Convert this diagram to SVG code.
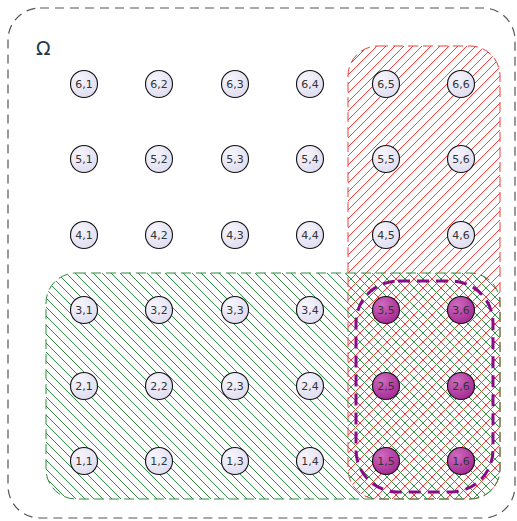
<svg xmlns="http://www.w3.org/2000/svg" width="517" height="521" viewBox="0 0 517 521">
<style>
.omega{fill:none;stroke:#555;stroke-width:1.2;stroke-dasharray:9,6}
.node circle{stroke:#111;stroke-width:1.1;fill:url(#gLight)}
.node.hot circle{fill:url(#gHot)}
.node text{font-family:"DejaVu Sans",sans-serif;font-size:11px;fill:#333;text-anchor:middle;dominant-baseline:central}
.lbl{font-family:"DejaVu Sans",sans-serif;font-size:19px;fill:#1f3b4d}
.hatch{stroke-width:1;fill:none}
</style>
<defs>
<radialGradient id="gLight" cx="0.35" cy="0.3" r="0.8">
<stop offset="0" stop-color="#f6f5fc"/><stop offset="1" stop-color="#dddbef"/>
</radialGradient>
<radialGradient id="gHot" cx="0.35" cy="0.3" r="0.8">
<stop offset="0" stop-color="#cf6ac0"/><stop offset="1" stop-color="#a1258f"/>
</radialGradient>
<pattern id="hRed" patternUnits="userSpaceOnUse" width="9" height="9">
<path class="hatch" d="M-2,2 L2,-2 M0,9 L9,0 M7,11 L11,7" stroke="#ff3c3c"/>
</pattern>
<pattern id="hGreen" patternUnits="userSpaceOnUse" width="9" height="9">
<path class="hatch" d="M-2,7 L2,11 M0,0 L9,9 M7,-2 L11,2" stroke="#2f8f40"/>
</pattern>
</defs>
<rect class="omega" x="8" y="8" width="507" height="510" rx="32"/>
<text class="lbl" x="36" y="55">Ω</text>
<g id="regionA">
<rect x="348" y="46" width="152" height="453" rx="30" fill="url(#hRed)" stroke="#e8403f" stroke-width="1" stroke-dasharray="10,5"/>
</g>
<g id="regionB">
<rect x="46" y="273" width="454" height="226" rx="30" fill="url(#hGreen)" stroke="#2e8b3e" stroke-width="1" stroke-dasharray="10,5"/>
</g>
<g id="regionAB">
<rect x="356" y="281" width="137" height="211" rx="42" fill="none" stroke="#8b0a88" stroke-width="3" stroke-dasharray="12,7"/>
</g>
<g id="n61" class="node"><circle cx="84" cy="84" r="13.5"/><text x="84" y="84">6,1</text></g>
<g id="n62" class="node"><circle cx="159" cy="84" r="13.5"/><text x="159" y="84">6,2</text></g>
<g id="n63" class="node"><circle cx="235" cy="84" r="13.5"/><text x="235" y="84">6,3</text></g>
<g id="n64" class="node"><circle cx="310" cy="84" r="13.5"/><text x="310" y="84">6,4</text></g>
<g id="n65" class="node"><circle cx="386" cy="84" r="13.5"/><text x="386" y="84">6,5</text></g>
<g id="n66" class="node"><circle cx="461" cy="84" r="13.5"/><text x="461" y="84">6,6</text></g>
<g id="n51" class="node"><circle cx="84" cy="159" r="13.5"/><text x="84" y="159">5,1</text></g>
<g id="n52" class="node"><circle cx="159" cy="159" r="13.5"/><text x="159" y="159">5,2</text></g>
<g id="n53" class="node"><circle cx="235" cy="159" r="13.5"/><text x="235" y="159">5,3</text></g>
<g id="n54" class="node"><circle cx="310" cy="159" r="13.5"/><text x="310" y="159">5,4</text></g>
<g id="n55" class="node"><circle cx="386" cy="159" r="13.5"/><text x="386" y="159">5,5</text></g>
<g id="n56" class="node"><circle cx="461" cy="159" r="13.5"/><text x="461" y="159">5,6</text></g>
<g id="n41" class="node"><circle cx="84" cy="235" r="13.5"/><text x="84" y="235">4,1</text></g>
<g id="n42" class="node"><circle cx="159" cy="235" r="13.5"/><text x="159" y="235">4,2</text></g>
<g id="n43" class="node"><circle cx="235" cy="235" r="13.5"/><text x="235" y="235">4,3</text></g>
<g id="n44" class="node"><circle cx="310" cy="235" r="13.5"/><text x="310" y="235">4,4</text></g>
<g id="n45" class="node"><circle cx="386" cy="235" r="13.5"/><text x="386" y="235">4,5</text></g>
<g id="n46" class="node"><circle cx="461" cy="235" r="13.5"/><text x="461" y="235">4,6</text></g>
<g id="n31" class="node"><circle cx="84" cy="310" r="13.5"/><text x="84" y="310">3,1</text></g>
<g id="n32" class="node"><circle cx="159" cy="310" r="13.5"/><text x="159" y="310">3,2</text></g>
<g id="n33" class="node"><circle cx="235" cy="310" r="13.5"/><text x="235" y="310">3,3</text></g>
<g id="n34" class="node"><circle cx="310" cy="310" r="13.5"/><text x="310" y="310">3,4</text></g>
<g id="n35" class="node hot"><circle cx="386" cy="310" r="13.5"/><text x="386" y="310">3,5</text></g>
<g id="n36" class="node hot"><circle cx="461" cy="310" r="13.5"/><text x="461" y="310">3,6</text></g>
<g id="n21" class="node"><circle cx="84" cy="386" r="13.5"/><text x="84" y="386">2,1</text></g>
<g id="n22" class="node"><circle cx="159" cy="386" r="13.5"/><text x="159" y="386">2,2</text></g>
<g id="n23" class="node"><circle cx="235" cy="386" r="13.5"/><text x="235" y="386">2,3</text></g>
<g id="n24" class="node"><circle cx="310" cy="386" r="13.5"/><text x="310" y="386">2,4</text></g>
<g id="n25" class="node hot"><circle cx="386" cy="386" r="13.5"/><text x="386" y="386">2,5</text></g>
<g id="n26" class="node hot"><circle cx="461" cy="386" r="13.5"/><text x="461" y="386">2,6</text></g>
<g id="n11" class="node"><circle cx="84" cy="461" r="13.5"/><text x="84" y="461">1,1</text></g>
<g id="n12" class="node"><circle cx="159" cy="461" r="13.5"/><text x="159" y="461">1,2</text></g>
<g id="n13" class="node"><circle cx="235" cy="461" r="13.5"/><text x="235" y="461">1,3</text></g>
<g id="n14" class="node"><circle cx="310" cy="461" r="13.5"/><text x="310" y="461">1,4</text></g>
<g id="n15" class="node hot"><circle cx="386" cy="461" r="13.5"/><text x="386" y="461">1,5</text></g>
<g id="n16" class="node hot"><circle cx="461" cy="461" r="13.5"/><text x="461" y="461">1,6</text></g>
<g id="connectors"/>
</svg>
